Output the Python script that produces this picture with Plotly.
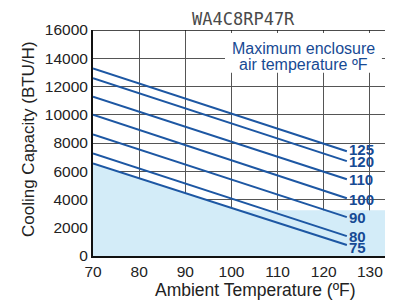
import plotly.graph_objects as go

# Data
enclosure_temps = ["125", "120", "110", "100", "90", "80", "75"]
x_start = 70
x_end = 125
cap_at_70 = [13270, 12590, 11280, 10000, 8600, 7260, 6560]
cap_at_125 = [7420, 6720, 5430, 4090, 2750, 1410, 780]
label_yshift = [2, 0, 0, -1, 0, 0, -3]

shade_floor = 3240  # flat level of shaded region on the right
x_ticks = [70, 80, 90, 100, 110, 120, 130]
y_ticks = [0, 2000, 4000, 6000, 8000, 10000, 12000, 14000, 16000]
y_tick_text = [str(v) for v in y_ticks]
legend_lines = ["Maximum enclosure", "air temperature ºF"]

LINE_BLUE = "#1d57a3"
TEXT_BLUE = "#174a94"

fig = go.Figure()

c0, c1 = cap_at_70[-1], cap_at_125[-1]
slope = (c1 - c0) / (x_end - x_start)
x_cross = x_start + (shade_floor - c0) / slope
shade_x = [70, x_cross, 135]
shade_y = [c0, shade_floor, shade_floor]
fig.add_trace(go.Scatter(x=shade_x, y=shade_y, mode="lines", line=dict(width=0),
                         fill="tozeroy", fillcolor="#d3ecf8", hoverinfo="skip",
                         showlegend=False))

for name, a, b, ys in zip(enclosure_temps, cap_at_70, cap_at_125, label_yshift):
    fig.add_trace(go.Scatter(x=[x_start, x_end], y=[a, b], mode="lines",
                             line=dict(color=LINE_BLUE, width=2), showlegend=False,
                             name=name))
    fig.add_annotation(x=x_end, y=b, text="<b>%s</b>" % name, showarrow=False,
                       xanchor="left", yanchor="middle", yshift=ys,
                       font=dict(family="Liberation Sans", size=15, color=TEXT_BLUE))

# white box behind the legend text
fig.add_shape(type="rect", x0=98.6, x1=132.6, y0=12970, y1=15790,
              fillcolor="white", line=dict(width=0), layer="above")
for txt, yv in zip(legend_lines, [14660, 13530]):
    fig.add_annotation(x=115.5, y=yv, text=txt, showarrow=False, yanchor="middle",
                       font=dict(family="Liberation Sans", size=16, color=TEXT_BLUE))

fig.add_annotation(xref="paper", yref="paper", x=0.503, y=1.0, yshift=11,
                   text="WA4C8RP47R", showarrow=False, yanchor="middle",
                   font=dict(family="DejaVu Sans Mono", size=17, color="#4a4a4a"))
fig.add_annotation(xref="paper", yref="paper", x=0.543, y=0, yshift=-34,
                   text="Ambient Temperature (ºF)", showarrow=False, yanchor="middle",
                   font=dict(family="Liberation Sans", size=17.5, color="#222"))
fig.add_annotation(xref="paper", yref="paper", x=0, xshift=-65, y=0.5, yshift=4,
                   text="Cooling Capacity (BTU/H)", showarrow=False, textangle=-90,
                   xanchor="center", yanchor="middle",
                   font=dict(family="Liberation Sans", size=17, color="#222"))

fig.update_xaxes(range=[70, 135], tickvals=x_ticks, showgrid=True, gridcolor="#555",
                 gridwidth=1, zeroline=False, showline=True, linecolor="#111",
                 linewidth=2, ticks="", automargin=False,
                 tickfont=dict(family="Liberation Sans", size=15.5, color="#222"))
fig.update_yaxes(range=[0, 16000], tickvals=y_ticks, ticktext=y_tick_text, showgrid=True,
                 gridcolor="#555", gridwidth=1, zeroline=False, showline=True,
                 linecolor="#111", linewidth=2, ticks="", automargin=False,
                 tickfont=dict(family="Liberation Sans", size=15.5, color="#222"))

fig.add_shape(type="line", xref="paper", yref="y", x0=0, x1=1, y0=16000, y1=16000,
              line=dict(color="#111", width=1.5), layer="above")

# page body has an 8px margin, so the figure is sized/offset to compensate
fig.update_layout(width=385, height=295, margin=dict(l=85, r=0, t=22, b=47),
                  plot_bgcolor="white", paper_bgcolor="white", showlegend=False)

fig.write_html("out.html")
